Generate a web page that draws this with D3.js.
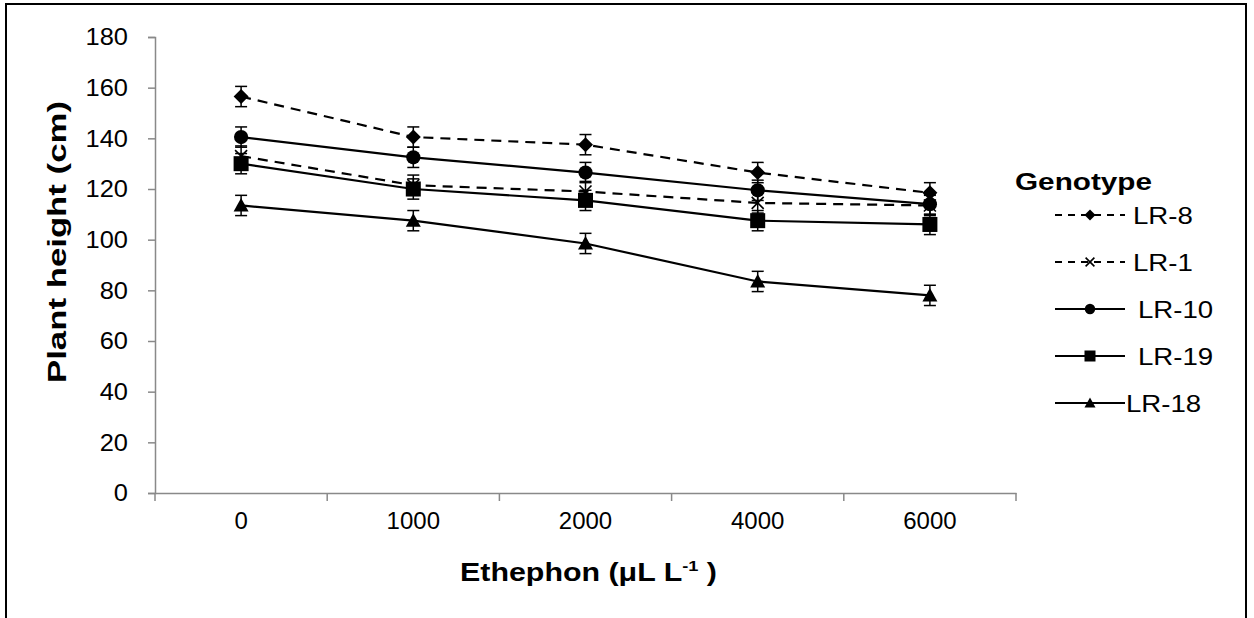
<!DOCTYPE html>
<html>
<head>
<meta charset="utf-8">
<script src="https://cdn.jsdelivr.net/npm/d3@7"></script>
<style>
  html, body { margin: 0; padding: 0; background: #fff; }
  svg { display: block; font-family: "Liberation Sans", Arial, sans-serif; }
</style>
</head>
<body>
<svg id="chart" width="1254" height="618"></svg>
<script>
// ---- Data ----
const categories = ["0", "1000", "2000", "4000", "6000"];
const yTicks = [0, 20, 40, 60, 80, 100, 120, 140, 160, 180];
const seriesNames = ["LR-8", "LR-1", "LR-10", "LR-19", "LR-18"];
const lr8  = [156.5, 140.5, 137.5, 126.5, 118.5];
const lr1  = [133, 121.5, 119, 114.5, 113.5];
const lr10 = [140.5, 132.5, 126.5, 119.5, 114];
const lr19 = [130, 120, 115.5, 107.5, 106];
const lr18 = [113.5, 107.5, 98.5, 83.5, 78];
const errLR8  = [4, 4, 4, 4, 4];
const errLR1  = [4, 4, 4, 4, 4];
const errLR10 = [4, 4, 4, 4, 4];
const errLR19 = [4, 4, 4, 4, 4];
const errLR18 = [4, 4, 4, 4, 4];

const series = [
  { name: "LR-8",  values: lr8,  err: errLR8,  dashed: true,  symbol: "diamond" },
  { name: "LR-1",  values: lr1,  err: errLR1,  dashed: true,  symbol: "x" },
  { name: "LR-10", values: lr10, err: errLR10, dashed: false, symbol: "circle" },
  { name: "LR-19", values: lr19, err: errLR19, dashed: false, symbol: "square" },
  { name: "LR-18", values: lr18, err: errLR18, dashed: false, symbol: "triangle" }
];

const svg = d3.select("#chart");

// stretch a text element to a target width
function fitWidth(sel, w) {
  sel.attr("textLength", w).attr("lengthAdjust", "spacingAndGlyphs");
}
function stretch(sel, k) {
  sel.each(function () {
    const len = this.getComputedTextLength();
    d3.select(this).attr("textLength", len * k).attr("lengthAdjust", "spacingAndGlyphs");
  });
}

// frame
svg.append("rect").attr("x", 6).attr("y", 4).attr("width", 1240).attr("height", 640)
  .attr("fill", "none").attr("stroke", "#000").attr("stroke-width", 2);

const plotLeft = 155, plotRight = 1016, plotTop = 37, plotBottom = 493;

const x = d3.scaleBand().domain(categories).range([plotLeft, plotRight]).paddingInner(0).paddingOuter(0);
const y = d3.scaleLinear().domain([0, 180]).range([plotBottom, plotTop]);
const cx = c => x(c) + x.bandwidth() / 2;

const axisColor = "#898989";

// Y axis
const yAxis = svg.append("g").attr("transform", `translate(${plotLeft},0)`)
  .call(d3.axisLeft(y).tickValues(yTicks).tickSize(7).tickPadding(20).tickFormat(d3.format("d")));
yAxis.select(".domain").attr("stroke", axisColor).attr("stroke-width", 1.5);
yAxis.selectAll(".tick line").attr("stroke", axisColor).attr("stroke-width", 1.5);
yAxis.selectAll(".tick text").attr("font-size", 24).attr("fill", "#000")
  .attr("font-family", "Liberation Sans, Arial, sans-serif");
stretch(yAxis.selectAll(".tick text"), 1.06);

// X axis
const xAxis = svg.append("g").attr("transform", `translate(0,${plotBottom})`)
  .call(d3.axisBottom(x).tickSize(0).tickPadding(19));
xAxis.select(".domain").attr("stroke", axisColor).attr("stroke-width", 1.5);
xAxis.selectAll(".tick text").attr("font-size", 24).attr("fill", "#000")
  .attr("font-family", "Liberation Sans, Arial, sans-serif");
// band boundary ticks
const boundaries = categories.map(c => x(c)).concat([x(categories[categories.length - 1]) + x.bandwidth()]);
svg.append("g").selectAll("line").data(boundaries).join("line")
  .attr("x1", d => d).attr("x2", d => d)
  .attr("y1", plotBottom).attr("y2", plotBottom + 8)
  .attr("stroke", axisColor).attr("stroke-width", 1.5);

// Axis titles
const xt = svg.append("text").attr("x", 460).attr("y", 581)
  .attr("font-size", 25).attr("font-weight", "bold");
xt.append("tspan").text("Ethephon (μL L");
xt.append("tspan").attr("dy", -10).attr("font-size", 15).text("-1");
xt.append("tspan").attr("dy", 10).text(" )");
fitWidth(xt, 257);

const yt = svg.append("text").attr("transform", `translate(66,242) rotate(-90)`)
  .attr("text-anchor", "middle").attr("font-size", 25).attr("font-weight", "bold")
  .text("Plant height (cm)");
fitWidth(yt, 282);

// symbols
function drawSymbol(g, type, px, py, s) {
  if (type === "diamond") {
    g.append("path").attr("d", `M${px},${py - s}L${px + s},${py}L${px},${py + s}L${px - s},${py}Z`).attr("fill", "#000");
  } else if (type === "circle") {
    g.append("circle").attr("cx", px).attr("cy", py).attr("r", s * 0.95).attr("fill", "#000");
  } else if (type === "square") {
    g.append("rect").attr("x", px - s).attr("y", py - s).attr("width", 2 * s).attr("height", 2 * s).attr("fill", "#000");
  } else if (type === "triangle") {
    g.append("path").attr("d", `M${px},${py - s}L${px + s},${py + s * 0.8}L${px - s},${py + s * 0.8}Z`).attr("fill", "#000");
  } else if (type === "x") {
    const k = s * 0.8;
    g.append("path").attr("d", `M${px - k},${py - k}L${px + k},${py + k}M${px - k},${py + k}L${px + k},${py - k}`)
      .attr("stroke", "#000").attr("stroke-width", 1.6).attr("fill", "none");
  }
}

const line = d3.line().x((d, i) => cx(categories[i])).y(d => y(d));

const plot = svg.append("g");
series.forEach(s => {
  const g = plot.append("g");
  g.append("path").attr("d", line(s.values)).attr("fill", "none")
    .attr("stroke", "#000").attr("stroke-width", 2.2)
    .attr("stroke-dasharray", s.dashed ? "10,7" : null);
  s.values.forEach((v, i) => {
    const px = cx(categories[i]);
    const top = y(v + s.err[i]), bot = y(v - s.err[i]);
    g.append("line").attr("x1", px).attr("x2", px).attr("y1", top).attr("y2", bot)
      .attr("stroke", "#000").attr("stroke-width", 1.5);
    [top, bot].forEach(yy => g.append("line").attr("x1", px - 6).attr("x2", px + 6)
      .attr("y1", yy).attr("y2", yy).attr("stroke", "#000").attr("stroke-width", 1.5));
    drawSymbol(g, s.symbol, px, y(v), 7.5);
  });
});

// Legend
const legend = svg.append("g");
const title = legend.append("text").attr("x", 1015).attr("y", 190).attr("font-size", 24).attr("font-weight", "bold").text("Genotype");
fitWidth(title, 137);
const legendY = [215, 262, 309, 356, 403];
const textX = [1133, 1133, 1138, 1138, 1126];
series.forEach((s, i) => {
  const ly = legendY[i];
  legend.append("line").attr("x1", 1055).attr("x2", 1125).attr("y1", ly).attr("y2", ly)
    .attr("stroke", "#000").attr("stroke-width", 2)
    .attr("stroke-dasharray", s.dashed ? "7,6" : null);
  drawSymbol(legend, s.symbol, 1090, ly, 5.5);
  const t = legend.append("text").attr("x", textX[i]).attr("y", ly + 9).attr("font-size", 24).text(s.name);
  stretch(t, 1.15);
});
</script>
</body>
</html>
